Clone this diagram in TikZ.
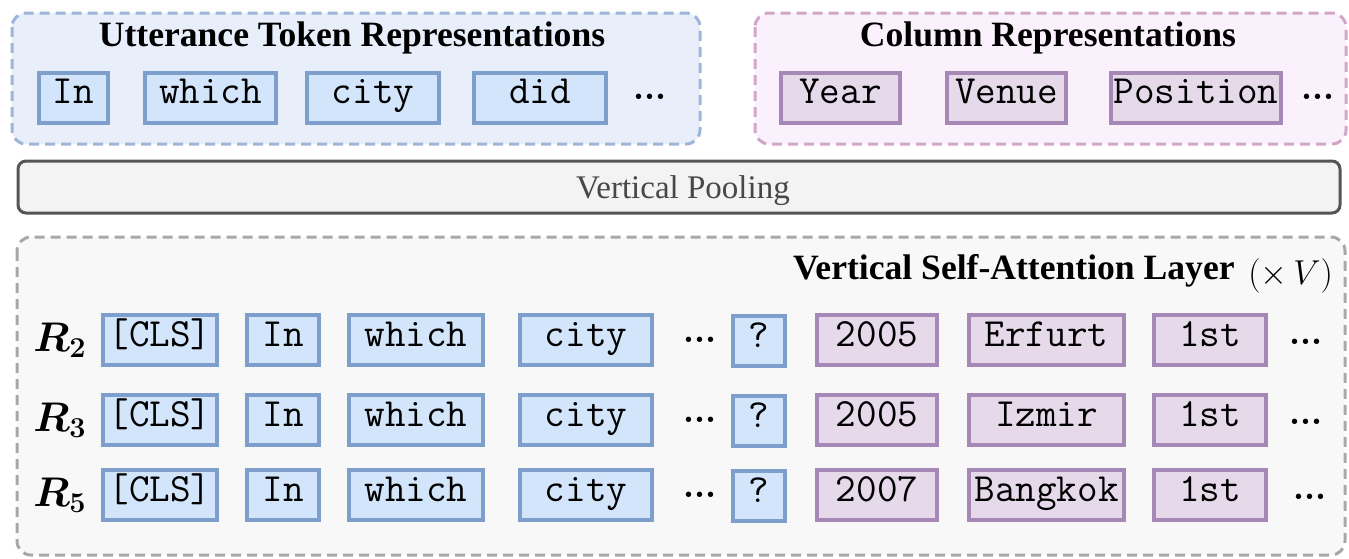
\documentclass[tikz,border=0pt]{standalone}
\usepackage[no-math]{fontspec}
\usepackage{bm}
\newfontfamily\timesfont{Liberation Serif}

\definecolor{uttfill}{HTML}{E8EFFB}
\definecolor{uttdash}{HTML}{9DB5DA}
\definecolor{colfill}{HTML}{FBF1FC}
\definecolor{coldash}{HTML}{D2A6C8}
\definecolor{bluefill}{HTML}{D3E5FB}
\definecolor{blueline}{HTML}{7E9ECB}
\definecolor{purpfill}{HTML}{E6D9EA}
\definecolor{purpline}{HTML}{A688B6}
\definecolor{poolfill}{HTML}{F3F3F3}
\definecolor{poolline}{HTML}{555555}
\definecolor{attfill}{HTML}{F8F8F8}
\definecolor{attdash}{HTML}{A8A8A8}

\tikzset{
  group/.style={line width=1.5pt, dash pattern=on 5pt off 3pt, rounded corners=7pt},
  tok/.style={draw, line width=2pt, inner sep=0pt, minimum height=25pt,
    text height=0.62em, text depth=0pt, font=\fontsize{20}{22}\selectfont\ttfamily},
  btok/.style={tok, draw=blueline, fill=bluefill},
  ptok/.style={tok, draw=purpline, fill=purpfill},
  boxw/.style={minimum width=#1*0.5pt-2pt},
  heading/.style={anchor=base, inner sep=0pt, font=\fontsize{17.8}{20}\selectfont\timesfont\bfseries},
  rlabel/.style={anchor=base, inner sep=0pt, font=\fontsize{21}{24}\selectfont},
  dots/.style={inner sep=0pt, font=\fontsize{18}{20}\selectfont\boldmath},
}

\begin{document}
\begin{tikzpicture}[x=0.5pt, y=-0.5pt]
\useasboundingbox (0,0) rectangle (1349,558);

% group frames
\draw[group, draw=uttdash, fill=uttfill] (12,13) rectangle (700,144);
\draw[group, draw=coldash, fill=colfill] (755,13) rectangle (1346,144);
\node[draw=poolline, fill=poolfill, line width=1.5pt, rounded corners=4pt,
      minimum width=1322*0.5pt, minimum height=52*0.5pt, inner sep=0pt]
  (pool) at (679,187) {};
\node[anchor=base, inner sep=0pt, font=\fontsize{16.5}{18}\selectfont\timesfont, text=black!72]
  (poollabel) at (683,198) {Vertical Pooling};
\draw[group, draw=attdash, fill=attfill] (17,237) rectangle (1345,555);

% headings
\node[heading] (utthead) at (352,46) {Utterance Token Representations};
\node[heading] (colhead) at (1048,46) {Column Representations};
\node[heading, anchor=base east] (atthead) at (1235,279) {Vertical Self-Attention Layer};
\node[anchor=base west, inner sep=0pt, font=\fontsize{19}{22}\selectfont] (times) at (1248,284) {$(\times\, V)$};

% utterance tokens
\node[btok, boxw=73]  (u1) at (73.5,97.5) {In};
\node[btok, boxw=135] (u2) at (210.5,97.5) {which};
\node[btok, boxw=136] (u3) at (373,97.5) {city};
\node[btok, boxw=136] (u4) at (540,97.5) {did};
\node[dots] (udots) at (650,97) {${\cdot}{\cdot}{\cdot}$};

% column headers
\node[ptok, boxw=123] (c1) at (840.5,97.5) {Year};
\node[ptok, boxw=123] (c2) at (1006.5,97.5) {Venue};
\node[ptok, boxw=174] (c3) at (1196,97.5) {Position};
\node[dots] (cdots) at (1318,97) {${\cdot}{\cdot}{\cdot}$};

% rows fed to the vertical self-attention layer
\foreach \k/\y/\yr/\place/\dx in {2/340/2005/Erfurt/0, 3/420/2005/Izmir/0, 5/495/2007/Bangkok/4}{
  \node[rlabel] (r\k) at (60,\y+11) {$\bm{R_{\k}}$};
  \node[btok, boxw=118] (r\k-cls)   at (160,\y)   {[CLS]};
  \node[btok, boxw=76]  (r\k-in)    at (283,\y)   {In};
  \node[btok, boxw=138] (r\k-which) at (416,\y)   {which};
  \node[btok, boxw=136] (r\k-city)  at (586,\y)   {city};
  \node[dots]           (r\k-udots) at (700,\y)   {${\cdot}{\cdot}{\cdot}$};
  \node[btok, boxw=56]  (r\k-q)     at (759,\y+1) {?};
  \node[ptok, boxw=124] (r\k-year)  at (877,\y)   {\yr};
  \node[ptok, boxw=159] (r\k-venue) at (1046.5,\y) {\place};
  \node[ptok, boxw=116] (r\k-pos)   at (1210,\y)  {1st};
  \node[dots]           (r\k-cdots) at (1306+\dx,\y+2) {${\cdot}{\cdot}{\cdot}$};
}
\end{tikzpicture}
\end{document}
